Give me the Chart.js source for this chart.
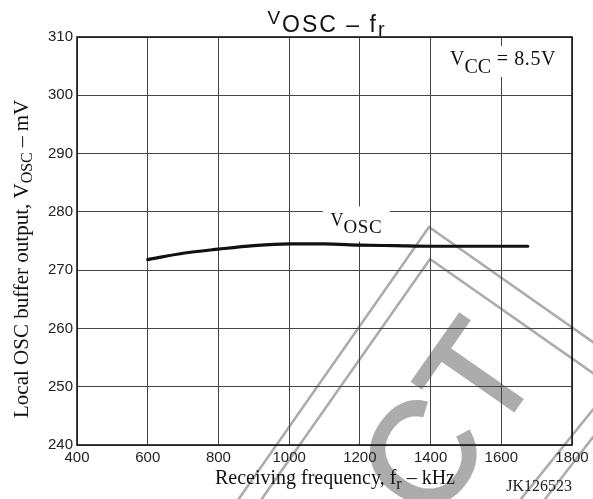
<!DOCTYPE html>
<html>
<head>
<meta charset="utf-8">
<script src="https://cdn.jsdelivr.net/npm/chart.js@4.4.0/dist/chart.umd.min.js"></script>
<style>
  html, body { margin: 0; padding: 0; background: #fff; }
  #wrap { width: 593px; height: 499px; }
</style>
</head>
<body>
<div id="wrap"><canvas id="chart" width="593" height="499"></canvas></div>
<script>
// VOSC vs receiving frequency, VCC = 8.5 V
const freqKHz = [600, 700, 800, 900, 1000, 1100, 1200, 1300, 1400, 1500, 1600, 1675];
const voscMV  = [271.8, 272.9, 273.6, 274.2, 274.5, 274.5, 274.3, 274.2, 274.1, 274.1, 274.1, 274.1];
const xTicks = [400, 600, 800, 1000, 1200, 1400, 1600, 1800];
const yTicks = [240, 250, 260, 270, 280, 290, 300, 310];
const curveTag = { x: 1190, y: 277.5 };

const SANS = "'Liberation Sans', Arial, sans-serif";
const SERIF = "'Liberation Serif', 'Times New Roman', serif";

// draw a run of text pieces, each with its own font and baseline shift
function drawParts(ctx, parts, x, y, align) {
  let total = 0;
  parts.forEach(p => {
    ctx.font = p.font;
    ctx.letterSpacing = p.ls || '0px';
    total += ctx.measureText(p.t).width;
  });
  let cx = x;
  if (align === 'center') cx = x - total / 2;
  if (align === 'right') cx = x - total;
  ctx.textAlign = 'left';
  ctx.textBaseline = 'alphabetic';
  parts.forEach(p => {
    ctx.font = p.font;
    ctx.letterSpacing = p.ls || '0px';
    ctx.fillText(p.t, cx, y + (p.dy || 0));
    cx += ctx.measureText(p.t).width;
  });
  ctx.letterSpacing = '0px';
  return total;
}

// grey stamp in the background
function drawStamp(ctx) {
  ctx.save();
  ctx.strokeStyle = '#acacac';
  ctx.lineWidth = 2.6;
  const frames = [
    [[224, 520], [429, 227], [620, 361]],
    [[247, 520], [430, 259], [620, 392]],
    [[504, 520], [620, 376]],
    [[529, 520], [620, 402]]
  ];
  frames.forEach(pts => {
    ctx.beginPath();
    pts.forEach((p, i) => i ? ctx.lineTo(p[0], p[1]) : ctx.moveTo(p[0], p[1]));
    ctx.stroke();
  });
  ctx.translate(432.5, 527);
  ctx.rotate(-55 * Math.PI / 180);
  ctx.font = '145px ' + SANS;
  ctx.fillStyle = '#acacac';
  ctx.textAlign = 'left';
  ctx.textBaseline = 'alphabetic';
  ctx.fillText('CT', 0, 0);
  ctx.lineWidth = 3;
  ctx.strokeText('CT', 0, 0);
  ctx.restore();
}

const paper = {
  id: 'paper',
  beforeDraw(chart) {
    const ctx = chart.ctx;
    ctx.save();
    ctx.fillStyle = '#fff';
    ctx.fillRect(0, 0, chart.width, chart.height);
    ctx.restore();
    drawStamp(ctx);
  },
  beforeDatasetsDraw(chart) {
    const ctx = chart.ctx;
    const a = chart.chartArea;
    const xs = chart.scales.x, ys = chart.scales.y;
    ctx.save();
    ctx.fillStyle = '#fff';
    // VCC note, top right
    const vx = a.right - 122, vy = a.top + 28;
    ctx.fillRect(vx - 4, a.top + 9, 118, 31);
    // curve tag
    const tx = xs.getPixelForValue(curveTag.x), ty = ys.getPixelForValue(curveTag.y);
    ctx.fillRect(tx - 33.5, ty - 20, 67, 35);
    ctx.fillStyle = '#111';
    drawParts(ctx, [
      { t: 'V', font: '20px ' + SERIF },
      { t: 'CC', font: '20px ' + SERIF, dy: 8 },
      { t: ' = 8.5V', font: '20px ' + SERIF, ls: '0.6px' }
    ], vx, vy, 'left');
    drawParts(ctx, [
      { t: 'V', font: '18px ' + SERIF },
      { t: 'OSC', font: '19px ' + SERIF, dy: 6.3, ls: '0.5px' }
    ], tx, ty, 'center');
    ctx.restore();
  },
  afterDraw(chart) {
    const ctx = chart.ctx;
    const a = chart.chartArea;
    ctx.save();
    ctx.strokeStyle = '#1a1a1a';
    ctx.lineWidth = 1.6;
    ctx.strokeRect(a.left, a.top, a.right - a.left, a.bottom - a.top);

    ctx.fillStyle = '#111';
    // title
    drawParts(ctx, [
      { t: 'V', font: '19px ' + SANS, dy: -7.7, ls: '2px' },
      { t: 'OSC', font: '23px ' + SANS, ls: '2px' },
      { t: ' \u2013 f', font: '23px ' + SANS, ls: '2px' },
      { t: 'r', font: '20px ' + SANS, dy: 4.3 }
    ], 326, 31.7, 'center');

    // x axis title
    drawParts(ctx, [
      { t: 'Receiving frequency, f', font: '20px ' + SERIF },
      { t: 'r', font: '16px ' + SERIF, dy: 5 },
      { t: ' \u2013 kHz', font: '20px ' + SERIF }
    ], 455, 484, 'right');

    // y axis title
    ctx.save();
    ctx.translate(27.5, 418);
    ctx.rotate(-Math.PI / 2);
    drawParts(ctx, [
      { t: 'Local OSC buffer output, V', font: '21px ' + SERIF },
      { t: 'OSC', font: '16px ' + SERIF, dy: 4 },
      { t: ' \u2013 mV', font: '21px ' + SERIF }
    ], 0, 0, 'left');
    ctx.restore();

    ctx.fillStyle = '#222';
    drawParts(ctx, [{ t: 'JK126523', font: '16px ' + SERIF }], a.right, 491, 'right');
    ctx.restore();
  }
};

const points = freqKHz.map((f, i) => ({ x: f, y: voscMV[i] }));

new Chart(document.getElementById('chart'), {
  type: 'line',
  data: {
    datasets: [{
      data: points,
      borderColor: '#111',
      borderWidth: 3.2,
      pointRadius: 0,
      fill: false,
      cubicInterpolationMode: 'monotone',
      borderCapStyle: 'round'
    }]
  },
  options: {
    responsive: false,
    animation: false,
    devicePixelRatio: 1,
    layout: { padding: { top: 37, right: 21, left: 0, bottom: 0 } },
    plugins: {
      legend: { display: false },
      title: { display: false },
      tooltip: { enabled: false }
    },
    scales: {
      x: {
        type: 'linear',
        min: 400,
        max: 1800,
        afterBuildTicks: s => { s.ticks = xTicks.map(v => ({ value: v })); },
        afterFit: s => { s.height = 54; },
        grid: { color: '#444', lineWidth: 1, drawTicks: false },
        border: { display: false },
        ticks: {
          padding: 4,
          color: '#222',
          maxRotation: 0,
          autoSkip: false,
          font: { family: SANS, size: 15 },
          callback: v => String(v)
        }
      },
      y: {
        type: 'linear',
        min: 240,
        max: 310,
        afterBuildTicks: s => { s.ticks = yTicks.map(v => ({ value: v })); },
        afterFit: s => { s.width = 77; },
        grid: { color: '#444', lineWidth: 1, drawTicks: false },
        border: { display: false },
        ticks: {
          padding: 4,
          color: '#222',
          autoSkip: false,
          font: { family: SANS, size: 15 },
          callback: v => String(v)
        }
      }
    }
  },
  plugins: [paper]
});
</script>
</body>
</html>
